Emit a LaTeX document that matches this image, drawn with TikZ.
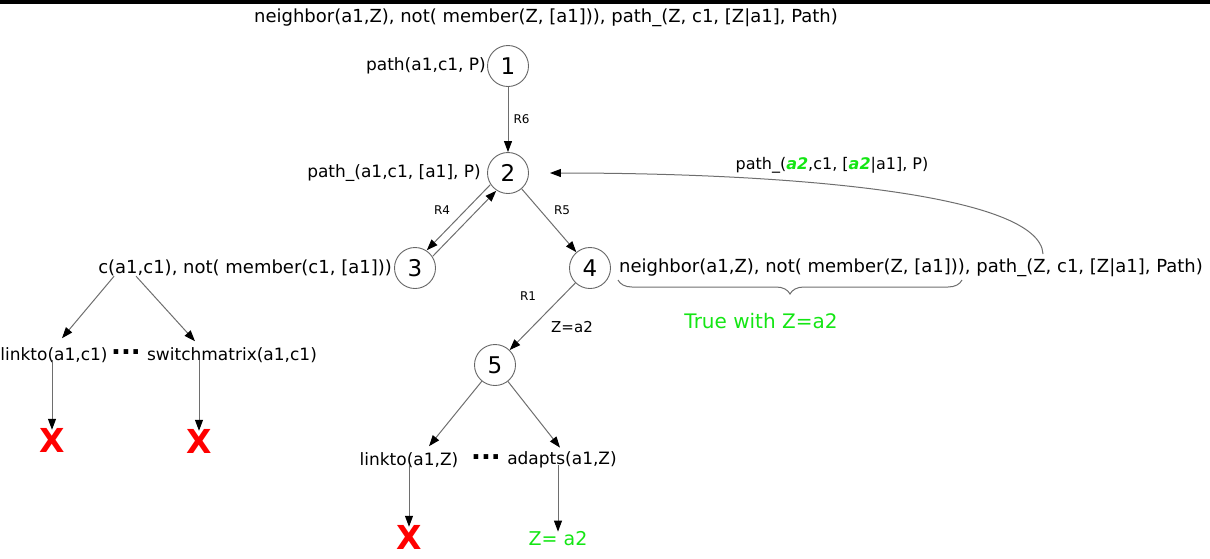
\documentclass[tikz,border=0pt]{standalone}
\usepackage{fontspec}
\setmainfont{DejaVu Sans}
\usetikzlibrary{arrows.meta,decorations.pathreplacing}

\definecolor{okgreen}{RGB}{20,230,20}
\definecolor{edgegray}{RGB}{110,110,110}

\tikzset{
  state/.style={circle, draw=black!60, line width=0.9pt, minimum size=41pt,
                inner sep=0pt, font=\fontsize{23}{25}\selectfont},
  goaltext/.style={inner sep=0pt, font=\fontsize{18}{20}\selectfont},
  lbl/.style={inner sep=0pt, font=\fontsize{17}{19}\selectfont},
  small/.style={inner sep=1pt, font=\fontsize{12}{14}\selectfont},
  arr/.style={draw=edgegray, line width=1pt,
              -{Triangle[length=11pt,width=8pt,color=black]}},
  fail/.style={inner sep=0pt, text=red, font=\fontsize{33}{35}\selectfont\bfseries},
  good/.style={inner sep=0pt, text=okgreen, font=\fontsize{19}{21}\selectfont},
  dots/.style={inner sep=0pt, font=\fontsize{26}{28}\selectfont\bfseries},
}

\begin{document}
\begin{tikzpicture}[x=1pt,y=-1pt]
\useasboundingbox (0,0) rectangle (1210,558);
\fill[black] (0,0) rectangle (1210,4);

% goal at the top
\node[goaltext] (goal) at (546,18) {neighbor(a1,Z), not( member(Z, [a1])), path\_(Z, c1, [Z|a1], Path)};

% states
\node[state] (n1) at (508,66) {1};
\node[state] (n2) at (508,173) {2};
\node[state] (n3) at (415,268) {3};
\node[state] (n4) at (590,268) {4};
\node[state] (n5) at (495,365) {5};

% state labels
\node[lbl, anchor=east] (q1) at ([xshift=-1]n1.west) {path(a1,c1, P)};
\node[lbl, anchor=east] (q2) at ([xshift=-6]n2.west) {path\_(a1,c1, [a1], P)};
\node[goaltext, anchor=east] (q3) at ([xshift=-2]n3.west) {c(a1,c1), not( member(c1, [a1]))};
\node[goaltext, anchor=west] (q4) at ([xshift=8]n4.east) {neighbor(a1,Z), not( member(Z, [a1])), path\_(Z, c1, [Z|a1], Path)};

% transitions between states
\draw[arr] (n1) -- (n2) node[midway, right=4pt, small] (r6) {R6};
\draw[arr] ([shift={(-3,-3)}]n2.225) -- ([shift={(-3,-3)}]n3.45);
\node[small] (r4) at (442,210) {R4};
\draw[arr] ([shift={(3,3)}]n3.45) -- ([shift={(3,3)}]n2.225);
\draw[arr] (n2) -- (n4);
\node[small] (r5) at (562,210) {R5};
\draw[arr] (n4) -- (n5);
\node[small] (r1) at (528,296) {R1};
\node[small, font=\fontsize{15}{17}\selectfont] (za) at (572,327) {Z=a2};

% recursive call back to state 2
\coordinate (loopstart) at (1043,254);
\draw[arr, shorten >=21pt] (loopstart) .. controls (1040,195) and (800,173) .. (n2.east);
\node[lbl, font=\fontsize{16}{18}\selectfont] (q2b) at (832,165) {path\_(\textcolor{okgreen}{\textbf{\textit{a2}}},c1, [\textcolor{okgreen}{\textbf{\textit{a2}}}|a1], P)};

% brace under the solved part of the goal
\coordinate (bl) at (618,280);
\coordinate (br) at (962,280);
\draw[edgegray, line width=1pt, decorate, decoration={brace, mirror, amplitude=14pt, aspect=0.5}] (bl) -- (br);
\node[good, font=\fontsize{20}{22}\selectfont] (tz) at (761,321) {True with Z=a2};

% children of state 3
\node[lbl] (lk1) at (54,355) {linkto(a1,c1)};
\node[dots] (d1) at (126,352) {...};
\node[lbl] (sw1) at (232,355) {switchmatrix(a1,c1)};
\draw[arr] ([xshift=16]q3.south west) -- ([shift={(8,-9)}]lk1.north);
\draw[arr] ([xshift=38]q3.south west) -- ([shift={(-37,-6)}]sw1.north);
\node[fail] (x1) at (52,440) {X};
\node[fail] (x2) at (199,441) {X};
\draw[arr] ([yshift=3]lk1.south -| x1) -- ([yshift=-2]x1.north);
\draw[arr] ([yshift=3]sw1.south -| x2) -- ([yshift=-2]x2.north);

% children of state 5
\node[lbl] (lk2) at (409,460) {linkto(a1,Z)};
\node[dots] (d2) at (486,457) {...};
\node[lbl] (ad2) at (562,460) {adapts(a1,Z)};
\draw[arr] (n5) -- ([shift={(20,-6)}]lk2.north);
\draw[arr] (n5) -- ([shift={(-2,-4)}]ad2.north);
\node[fail] (x3) at (409,537) {X};
\node[good] (z2) at (558,539) {Z= a2};
\draw[arr] ([yshift=3]lk2.south -| x3) -- ([yshift=-2]x3.north);
\draw[arr] ([yshift=3]ad2.south -| z2) -- (z2.north);
\end{tikzpicture}
\end{document}
